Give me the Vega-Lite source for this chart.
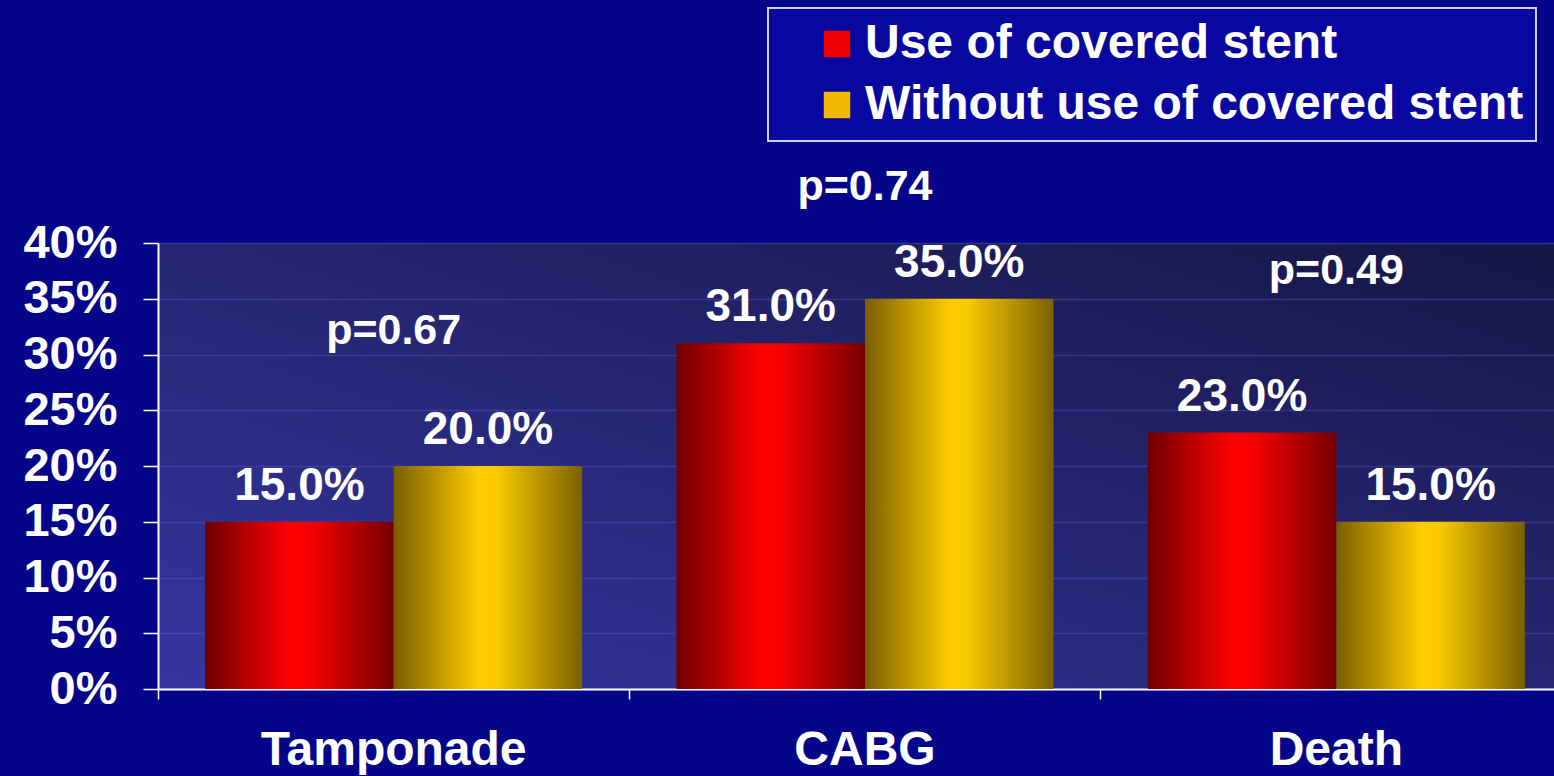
{
  "$schema": "https://vega.github.io/schema/vega-lite/v6.json",
  "width": 1396,
  "height": 446,
  "autosize": {"type": "none"},
  "padding": {"left": 158, "top": 243, "right": 0, "bottom": 87},
  "background": "#05058a",
  "config": {
    "font": "Liberation Sans",
    "view": {
      "stroke": null,
      "fill": {"gradient": "linear", "x1": 0, "y1": 1, "x2": 1, "y2": 0, "stops": [{"offset": 0, "color": "#3636a2"}, {"offset": 1, "color": "#161646"}]}
    },
    "axis": {"labelColor": "#ffffff", "labelFont": "Liberation Sans", "labelFontWeight": "bold", "domainColor": "#ffffff", "tickColor": "#ffffff", "title": null}
  },
  "datasets": {
    "bars": [
      {"category": "Tamponade", "group": "Use of covered stent", "value": 0.15},
      {"category": "Tamponade", "group": "Without use of covered stent", "value": 0.20},
      {"category": "CABG", "group": "Use of covered stent", "value": 0.31},
      {"category": "CABG", "group": "Without use of covered stent", "value": 0.35},
      {"category": "Death", "group": "Use of covered stent", "value": 0.23},
      {"category": "Death", "group": "Without use of covered stent", "value": 0.15}
    ],
    "pvals": [
      {"category": "Tamponade", "p": "p=0.67", "label_at": 0.309},
      {"category": "CABG", "p": "p=0.74", "label_at": 0.439},
      {"category": "Death", "p": "p=0.49", "label_at": 0.363}
    ]
  },
  "data": {"name": "bars"},
  "encoding": {
    "x": {
      "field": "category", "type": "nominal", "sort": ["Tamponade", "CABG", "Death"],
      "scale": {"range": [0, 1414], "paddingInner": 0, "paddingOuter": 0},
      "axis": {"labelAngle": 0, "labelFontSize": 48, "labelLimit": 1000, "tickSize": 10, "tickWidth": 1.5, "bandPosition": 0, "domainWidth": 2, "labelPadding": 27, "labelBaseline": "top"}
    }
  },
  "layer": [
    {
      "mark": {"type": "bar", "color": {"gradient": "linear", "x1": 0, "y1": 0, "x2": 1, "y2": 0, "stops": [{"offset": 0, "color": "#6e0000"}, {"offset": 0.45, "color": "#ff0000"}, {"offset": 0.55, "color": "#f80000"}, {"offset": 1, "color": "#760000"}]}},
      "transform": [{"filter": "datum.group === 'Use of covered stent'"}],
      "encoding": {
        "xOffset": {"field": "group", "type": "nominal", "scale": {"domain": ["Use of covered stent", "Without use of covered stent"], "paddingInner": 0, "paddingOuter": 0.25}},
        "y": {"field": "value", "type": "quantitative", "scale": {"domain": [0, 0.4]}, "axis": {"format": ".0%", "values": [0, 0.05, 0.1, 0.15, 0.2, 0.25, 0.3, 0.35, 0.4], "labelFontSize": 47, "tickSize": 15, "tickWidth": 1.5, "domainWidth": 2, "labelPadding": 26, "grid": true, "gridColor": "#5a5ac0", "gridOpacity": 0.4, "gridWidth": 1.5}}
      }
    },
    {
      "mark": {"type": "bar", "color": {"gradient": "linear", "x1": 0, "y1": 0, "x2": 1, "y2": 0, "stops": [{"offset": 0, "color": "#7a5e00"}, {"offset": 0.45, "color": "#ffcc00"}, {"offset": 0.55, "color": "#f8c800"}, {"offset": 1, "color": "#7a6000"}]}},
      "transform": [{"filter": "datum.group === 'Without use of covered stent'"}],
      "encoding": {
        "xOffset": {"field": "group", "type": "nominal"},
        "y": {"field": "value", "type": "quantitative"}
      }
    },
    {
      "mark": {"type": "square", "opacity": 0},
      "encoding": {
        "xOffset": {"field": "group", "type": "nominal"},
        "y": {"field": "value", "type": "quantitative"},
        "color": {
          "field": "group", "type": "nominal",
          "scale": {"domain": ["Use of covered stent", "Without use of covered stent"], "range": ["#ee0000", "#f0b800"]},
          "legend": {"orient": "none", "legendX": 610, "legendY": -235, "title": null, "symbolType": "square", "symbolSize": 700, "symbolOpacity": 1, "symbolStrokeWidth": 0, "labelFontSize": 48, "labelFont": "Liberation Sans", "labelFontWeight": "bold", "labelColor": "#ffffff", "labelOffset": 4, "labelLimit": 1000, "rowPadding": 13, "padding": 12, "symbolOffset": 33, "strokeColor": "#d0d0f0", "fillColor": "#0808a0",
            "encode": {"legend": {"update": {"strokeWidth": {"value": 2}}}}}
        }
      }
    },
    {
      "mark": {"type": "text", "color": "#ffffff", "font": "Liberation Sans", "fontWeight": "bold", "fontSize": 46, "baseline": "alphabetic", "dy": -22},
      "encoding": {
        "xOffset": {"field": "group", "type": "nominal"},
        "y": {"field": "value", "type": "quantitative"},
        "text": {"field": "value", "type": "quantitative", "format": ".1%"}
      }
    },
    {
      "data": {"name": "pvals"},
      "mark": {"type": "text", "color": "#ffffff", "font": "Liberation Sans", "fontWeight": "bold", "fontSize": 43, "baseline": "alphabetic"},
      "encoding": {
        "x": {"field": "category", "type": "nominal", "sort": ["Tamponade", "CABG", "Death"]},
        "y": {"field": "label_at", "type": "quantitative"},
        "text": {"field": "p", "type": "nominal"}
      }
    }
  ]
}
